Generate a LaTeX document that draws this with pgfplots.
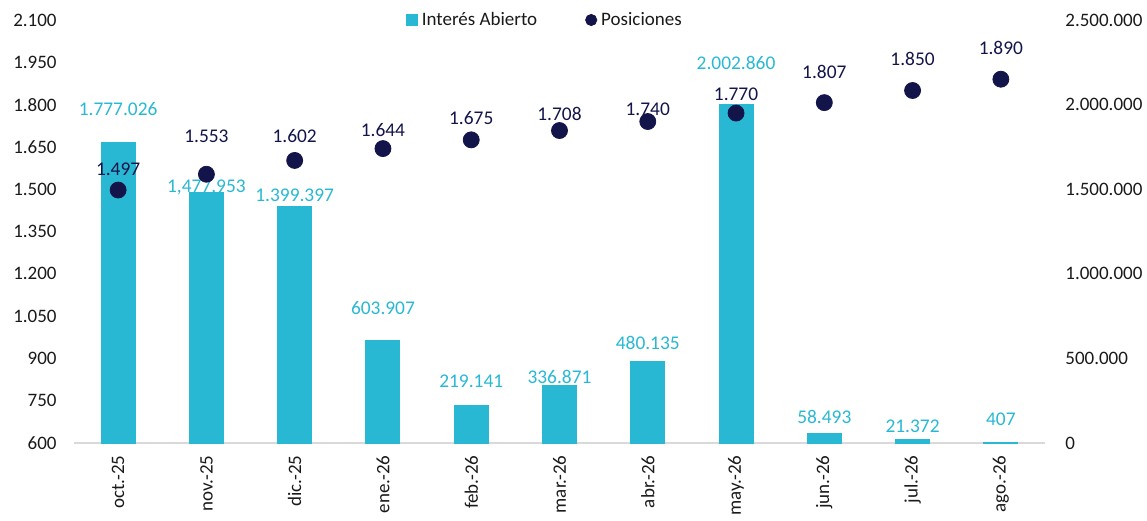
\documentclass[border=0pt]{standalone}
\usepackage{pgfplots}
\pgfplotsset{compat=1.18}
\usepackage{pgfplotstable}
\usepackage{fontspec}
\setmainfont{Carlito}
\definecolor{barc}{HTML}{29B8D3}
\definecolor{navy}{HTML}{13144A}
\definecolor{axgray}{HTML}{D9D9D9}
\definecolor{tickc}{HTML}{1A1A1A}

\pgfplotstableread{
x bar
0 1777026
1 1477953
2 1399397
3 603907
4 219141
5 336871
6 480135
7 2002860
8 58493
9 21372
10 407
}\bardata

\pgfplotstableread{
x ylab label
0 1974000 1.777.026
1 1510000 1,477,953
2 1465700 1.399.397
3 797900 603.907
4 366400 219.141
5 390100 336.871
6 591000 480.135
7 2245900 2.002.860
8 153700 58.493
9 100500 21.372
10 141800 407
}\barlabels

\pgfplotstableread{
x pos
0 1497
1 1553
2 1602
3 1644
4 1675
5 1708
6 1740
7 1770
8 1807
9 1850
10 1890
}\posdata

\pgfplotstableread{
x ylab label
0 1571.6 1.497
1 1688.7 1.553
2 1688.7 1.602
3 1710.0 1.644
4 1752.5 1.675
5 1766.7 1.708
6 1784.4 1.740
7 1837.6 1.770
8 1915.6 1.807
9 1961.7 1.850
10 2000.7 1.890
}\poslabels

\begin{document}
\begin{tikzpicture}[font=\fontsize{9.7}{11.6}\selectfont]
\pgfplotsset{
  common/.style={
    width=485.5pt, height=211.5pt, scale only axis,
    xmin=-0.5, xmax=10.5,
    major tick length=0pt,
    /pgf/number format/assume math mode=true,
    tick label style={text=tickc, inner sep=0pt, font=\fontsize{9.5}{11.4}\selectfont},
    scaled y ticks=false,
  }
}
\begin{axis}[common,
  ymin=0, ymax=2500000,
  ytick={0,500000,1000000,1500000,2000000,2500000},
  yticklabels={0,500.000,1.000.000,1.500.000,2.000.000,2.500.000},
  axis y line*=right, axis x line*=bottom,
  y axis line style={draw=none},
  x axis line style={axgray, line width=1pt, -},
  xtick={0,...,10},
  xticklabels={oct.-25,nov.-25,dic.-25,ene.-26,feb.-26,mar.-26,abr.-26,may.-26,jun.-26,jul.-26,ago.-26},
  xticklabel style={rotate=90, anchor=east},
  xticklabel shift=6pt,
  yticklabel style={anchor=west},
  yticklabel shift=10pt,
]
\addplot[ybar, bar width=16.9pt, bar shift=0pt, fill=barc, draw=barc, line width=0.6pt] table[x=x,y=bar]{\bardata};
\addplot[draw=none, mark=none, nodes near coords, point meta=explicit symbolic,
  nodes near coords style={anchor=center, text=barc, inner sep=0pt}] table[x=x,y=ylab,meta=label]{\barlabels};
\coordinate (bbsw) at (rel axis cs:0,0);
\coordinate (bbne) at (rel axis cs:1,1);
\end{axis}
\begin{axis}[common,
  ymin=600, ymax=2100,
  ytick={600,750,900,1050,1200,1350,1500,1650,1800,1950,2100},
  yticklabels={600,750,900,1.050,1.200,1.350,1.500,1.650,1.800,1.950,2.100},
  axis y line*=left,
  y axis line style={draw=none},
  hide x axis,
  yticklabel style={anchor=east},
  yticklabel shift=8.5pt,
  legend columns=2,
  legend style={at={(0.486,1)}, anchor=center, draw=none, fill=none, text=tickc,
    font=\fontsize{9.5}{11.4}\selectfont,
    /tikz/every even column/.append style={column sep=22pt}},
  legend cell align=left,
]
\addlegendimage{legend image code/.code={\fill[barc] (0pt,-2.75pt) rectangle (5.5pt,2.75pt);}}
\addlegendentry{Interés Abierto}
\addplot[only marks, mark=*, mark size=4pt, color=navy,
  legend image code/.code={\fill[navy] (2.8pt,0pt) circle (2.8pt);}] table[x=x,y=pos]{\posdata};
\addlegendentry{Posiciones}
\addplot[draw=none, mark=none, nodes near coords, point meta=explicit symbolic,
  nodes near coords style={anchor=center, text=navy, inner sep=0pt}] table[x=x,y=ylab,meta=label]{\poslabels};
\end{axis}
\pgfresetboundingbox
\path ([shift={(-37pt,-38.5pt)}]bbsw) rectangle ([shift={(51pt,10pt)}]bbne);
\end{tikzpicture}
\end{document}
